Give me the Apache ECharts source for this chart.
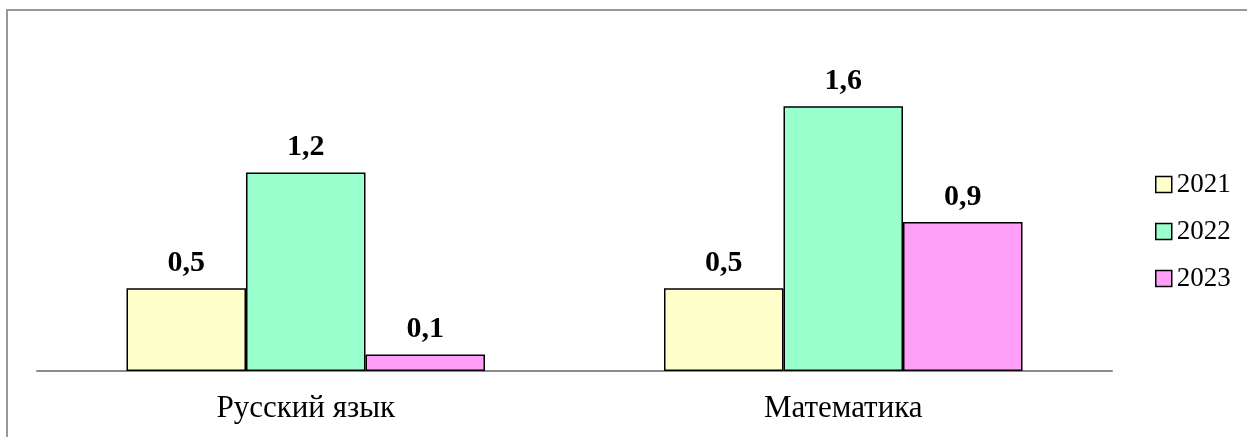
<!DOCTYPE html>
<html>
<head>
<meta charset="utf-8">
<script src="https://cdn.jsdelivr.net/npm/echarts@6/dist/echarts.min.js"></script>
<style>html,body{margin:0;padding:0;background:#fff}#c{width:1247px;height:437px}</style>
</head>
<body>
<div id="c"></div>
<script>
const categories = ['Русский язык', 'Математика'];
const seriesNames = ['2021', '2022', '2023'];
const values2021 = [0.5, 0.5];
const values2022 = [1.2, 1.6];
const values2023 = [0.1, 0.9];
const colors = ['#FFFFCC', '#99FFCC', '#FF9FF7'];

const font = '"Liberation Serif", "Times New Roman", serif';
const allValues = [values2021, values2022, values2023];

const chart = echarts.init(document.getElementById('c'), null, {renderer: 'canvas'});
chart.setOption({
  animation: false,
  backgroundColor: '#fff',
  graphic: [{
    type: 'polyline',
    shape: {points: [[7, 440], [7, 10], [1250, 10]]},
    style: {stroke: '#999', lineWidth: 2, fill: null}
  }],
  grid: {left: 37, right: 135, top: 40, bottom: 66},
  legend: {
    orient: 'vertical',
    left: 1150,
    top: 166,
    itemWidth: 16,
    itemHeight: 16,
    itemGap: 20,
    icon: 'rect',
    itemStyle: {borderColor: '#000', borderWidth: 1.5},
    textStyle: {fontFamily: font, fontSize: 27, color: '#000', lineHeight: 27},
    data: seriesNames
  },
  xAxis: {
    type: 'category',
    data: categories,
    axisLine: {lineStyle: {color: '#8c8c8c', width: 2}},
    axisTick: {show: false},
    axisLabel: {fontFamily: font, fontSize: 31, color: '#000', margin: 22}
  },
  yAxis: {
    type: 'value', min: 0, max: 2, show: false,
    splitLine: {show: false}
  },
  series: seriesNames.map((name, i) => ({
    name,
    type: 'bar',
    data: allValues[i],
    barGap: '0%',
    barCategoryGap: '33.3%',
    itemStyle: {color: colors[i], borderColor: '#000', borderWidth: 1.5},
    label: {
      show: true,
      position: 'top',
      distance: 10,
      fontFamily: font,
      fontSize: 30,
      fontWeight: 'bold',
      color: '#000',
      formatter: p => String(p.value).replace('.', ',')
    }
  }))
});
</script>
</body>
</html>
